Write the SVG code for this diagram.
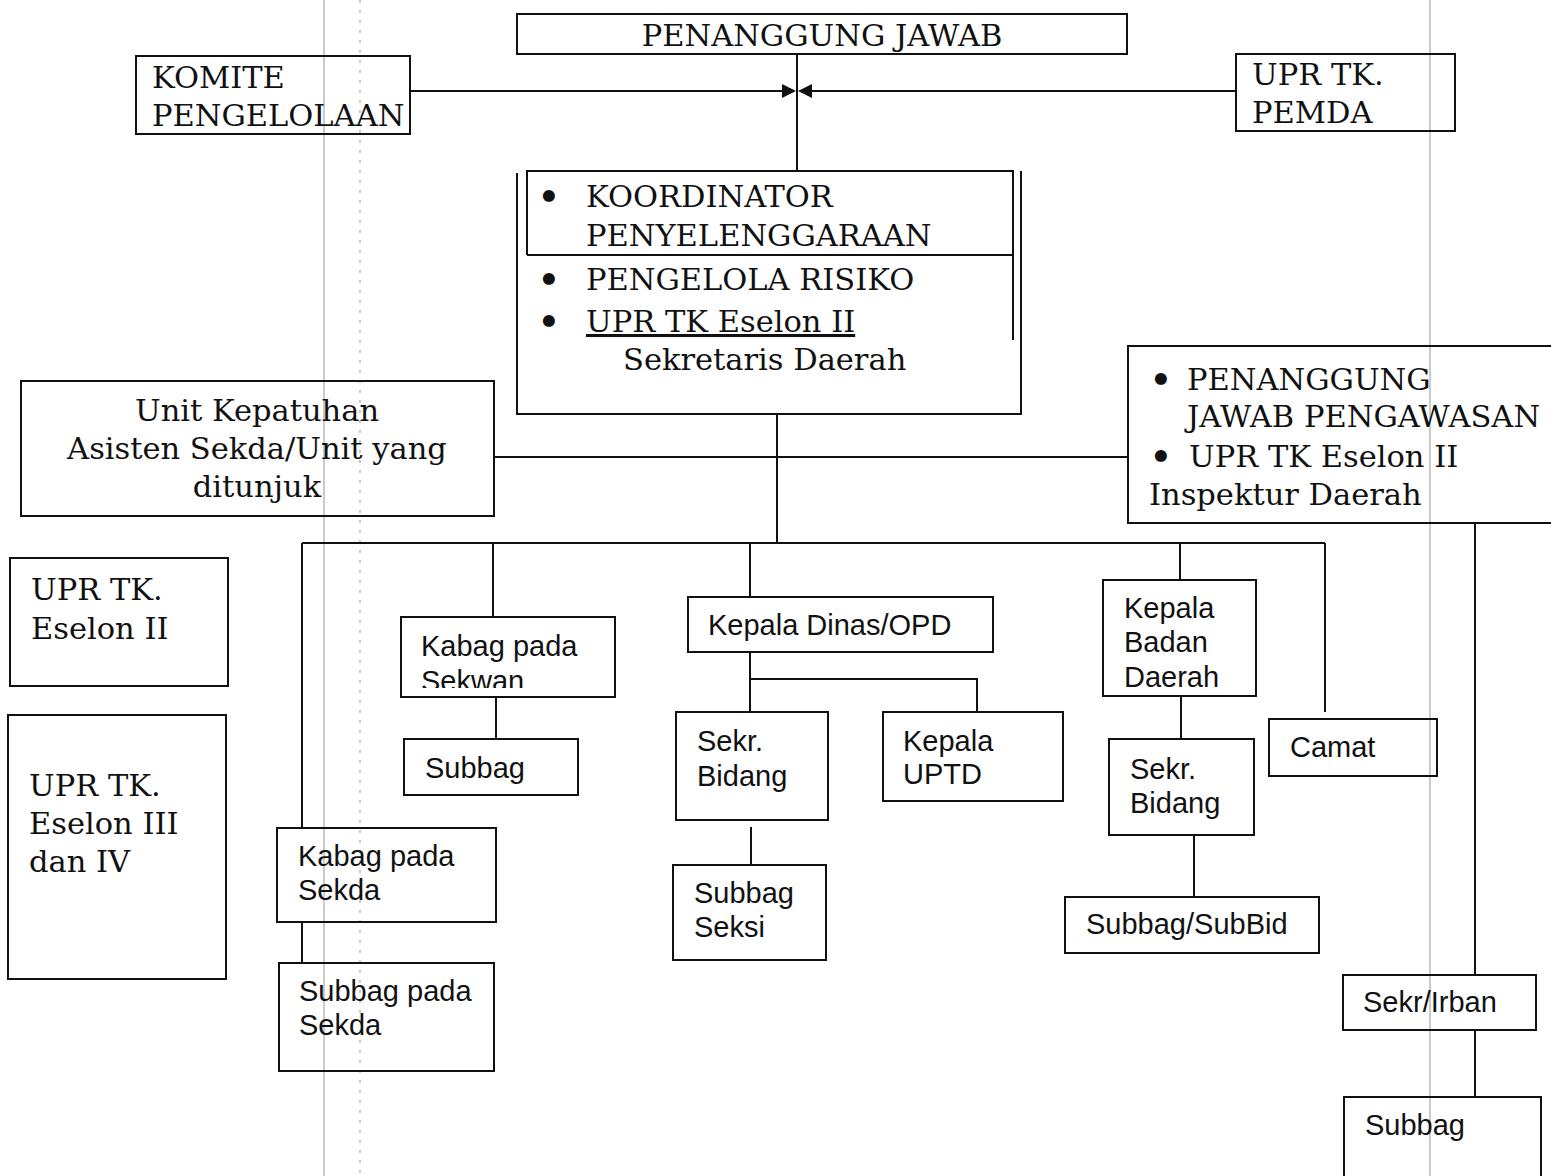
<svg xmlns="http://www.w3.org/2000/svg" width="1551" height="1176" viewBox="0 0 1551 1176">
<style>
.bg{fill:#fff}
.box{fill:none;stroke:#111;stroke-width:2}
.ln{fill:none;stroke:#111;stroke-width:2}
.guide{fill:none;stroke:#a0a0a0;stroke-width:1.1}
.guided{fill:none;stroke:#a0a0a0;stroke-width:1.1;stroke-dasharray:3 7}
.sf{font-family:"DejaVu Serif","Liberation Serif",serif;font-size:30.5px;fill:#111}
.bul{font-family:"DejaVu Serif","Liberation Serif",serif;font-size:34px;font-weight:bold;fill:#111}
.ss{font-family:"Liberation Sans",Arial,sans-serif;font-size:29px;fill:#111}
</style>
<defs>
<clipPath id="clipSekwan"><rect x="401" y="617" width="214" height="71"/></clipPath>
<clipPath id="clipDaerah"><rect x="1103" y="580" width="153" height="107"/></clipPath>
</defs>
<rect class="bg" x="0" y="0" width="1551" height="1176"/>

<g id="guides">
<line class="guide" x1="324" y1="0" x2="324" y2="1176"/>
<line class="guided" x1="360" y1="0" x2="360" y2="1176"/>
<line class="guide" x1="1430" y1="0" x2="1430" y2="1176"/>
</g>

<g id="connectors">
<line class="ln" x1="797" y1="54" x2="797" y2="171"/>
<line class="ln" x1="410" y1="91" x2="784" y2="91"/>
<line class="ln" x1="810" y1="91" x2="1236" y2="91"/>
<polygon points="782,84 796,91 782,98" fill="#111"/>
<polygon points="812,84 798,91 812,98" fill="#111"/>
<line class="ln" x1="777" y1="414" x2="777" y2="543"/>
<line class="ln" x1="494" y1="457" x2="1128" y2="457"/>
<line class="ln" x1="302" y1="543" x2="1325" y2="543"/>
<line class="ln" x1="302" y1="543" x2="302" y2="828"/>
<line class="ln" x1="302" y1="922" x2="302" y2="963"/>
<line class="ln" x1="493" y1="543" x2="493" y2="617"/>
<line class="ln" x1="496" y1="697" x2="496" y2="739"/>
<line class="ln" x1="750" y1="543" x2="750" y2="597"/>
<line class="ln" x1="750" y1="652" x2="750" y2="712"/>
<polyline class="ln" points="750,679 977,679 977,712"/>
<line class="ln" x1="751" y1="827" x2="751" y2="865"/>
<line class="ln" x1="1180" y1="543" x2="1180" y2="580"/>
<line class="ln" x1="1181" y1="696" x2="1181" y2="739"/>
<line class="ln" x1="1194" y1="835" x2="1194" y2="897"/>
<line class="ln" x1="1325" y1="543" x2="1325" y2="712"/>
<line class="ln" x1="1475" y1="523" x2="1475" y2="975"/>
<line class="ln" x1="1475" y1="1030" x2="1475" y2="1097"/>
</g>

<g id="penanggung-jawab">
<rect class="box" x="517" y="14" width="610" height="40"/>
<text class="sf" x="822" y="46" text-anchor="middle">PENANGGUNG JAWAB</text>
</g>

<g id="komite">
<rect class="box" x="136" y="56" width="274" height="78"/>
<text class="sf" x="152" y="88">KOMITE</text>
<text class="sf" x="152" y="126">PENGELOLAAN</text>
</g>

<g id="upr-pemda">
<rect class="box" x="1236" y="54" width="219" height="77"/>
<text class="sf" x="1252" y="85">UPR TK.</text>
<text class="sf" x="1252" y="123">PEMDA</text>
</g>

<g id="koordinator">
<path class="box" d="M517,173 V414 H1021 V171"/>
<path class="box" d="M527,255 V171 H1013 V340 M527,255 H1013"/>
<text class="bul" x="538" y="208">•</text>
<text class="sf" x="586" y="207">KOORDINATOR</text>
<text class="sf" x="586" y="246">PENYELENGGARAAN</text>
<text class="bul" x="538" y="291">•</text>
<text class="sf" x="586" y="290">PENGELOLA RISIKO</text>
<text class="bul" x="538" y="333">•</text>
<text class="sf" x="586" y="332" text-decoration="underline">UPR TK Eselon II</text>
<text class="sf" x="623" y="370">Sekretaris Daerah</text>
</g>

<g id="unit-kepatuhan">
<rect class="box" x="21" y="381" width="473" height="135"/>
<text class="sf" x="257" y="421" text-anchor="middle">Unit Kepatuhan</text>
<text class="sf" x="257" y="459" text-anchor="middle">Asisten Sekda/Unit yang</text>
<text class="sf" x="257" y="497" text-anchor="middle">ditunjuk</text>
</g>

<g id="pj-pengawasan">
<rect class="box" x="1128" y="346" width="440" height="177"/>
<text class="bul" x="1150" y="391">•</text>
<text class="sf" x="1187" y="390">PENANGGUNG</text>
<text class="sf" x="1187" y="427">JAWAB PENGAWASAN</text>
<text class="bul" x="1150" y="468">•</text>
<text class="sf" x="1189" y="467">UPR TK Eselon II</text>
<text class="sf" x="1149" y="505">Inspektur Daerah</text>
</g>

<g id="upr-eselon-2">
<rect class="box" x="10" y="558" width="218" height="128"/>
<text class="sf" x="31" y="600">UPR TK.</text>
<text class="sf" x="31" y="639">Eselon II</text>
</g>

<g id="upr-eselon-3-4">
<rect class="box" x="8" y="715" width="218" height="264"/>
<text class="sf" x="29" y="796">UPR TK.</text>
<text class="sf" x="29" y="834">Eselon III</text>
<text class="sf" x="29" y="872">dan IV</text>
</g>

<g id="kabag-sekwan">
<rect class="box" x="401" y="617" width="214" height="80"/>
<text class="ss" x="421" y="656">Kabag pada</text>
<text class="ss" x="421" y="691" clip-path="url(#clipSekwan)">Sekwan</text>
</g>

<g id="subbag-sekwan">
<rect class="box" x="404" y="739" width="174" height="56"/>
<text class="ss" x="425" y="778">Subbag</text>
</g>

<g id="kepala-dinas">
<rect class="box" x="688" y="597" width="305" height="55"/>
<text class="ss" x="708" y="635">Kepala Dinas/OPD</text>
</g>

<g id="sekr-bidang-dinas">
<rect class="box" x="676" y="712" width="152" height="108"/>
<text class="ss" x="697" y="751">Sekr.</text>
<text class="ss" x="697" y="786">Bidang</text>
</g>

<g id="kepala-uptd">
<rect class="box" x="883" y="712" width="180" height="89"/>
<text class="ss" x="903" y="751">Kepala</text>
<text class="ss" x="903" y="784">UPTD</text>
</g>

<g id="subbag-seksi">
<rect class="box" x="673" y="865" width="153" height="95"/>
<text class="ss" x="694" y="903">Subbag</text>
<text class="ss" x="694" y="937">Seksi</text>
</g>

<g id="kepala-badan">
<rect class="box" x="1103" y="580" width="153" height="116"/>
<text class="ss" x="1124" y="618">Kepala</text>
<text class="ss" x="1124" y="652">Badan</text>
<text class="ss" x="1124" y="687" clip-path="url(#clipDaerah)">Daerah</text>
</g>

<g id="sekr-bidang-badan">
<rect class="box" x="1109" y="739" width="145" height="96"/>
<text class="ss" x="1130" y="779">Sekr.</text>
<text class="ss" x="1130" y="813">Bidang</text>
</g>

<g id="subbag-subbid">
<rect class="box" x="1065" y="897" width="254" height="56"/>
<text class="ss" x="1086" y="934">Subbag/SubBid</text>
</g>

<g id="camat">
<rect class="box" x="1269" y="719" width="168" height="57"/>
<text class="ss" x="1290" y="757">Camat</text>
</g>

<g id="kabag-sekda">
<rect class="box" x="277" y="828" width="219" height="94"/>
<text class="ss" x="298" y="866">Kabag pada</text>
<text class="ss" x="298" y="900">Sekda</text>
</g>

<g id="subbag-sekda">
<rect class="box" x="279" y="963" width="215" height="108"/>
<text class="ss" x="299" y="1001">Subbag pada</text>
<text class="ss" x="299" y="1035">Sekda</text>
</g>

<g id="sekr-irban">
<rect class="box" x="1343" y="975" width="193" height="55"/>
<text class="ss" x="1363" y="1012">Sekr/Irban</text>
</g>

<g id="subbag-irban">
<rect class="box" x="1344" y="1097" width="197" height="90"/>
<text class="ss" x="1365" y="1135">Subbag</text>
</g>
</svg>
